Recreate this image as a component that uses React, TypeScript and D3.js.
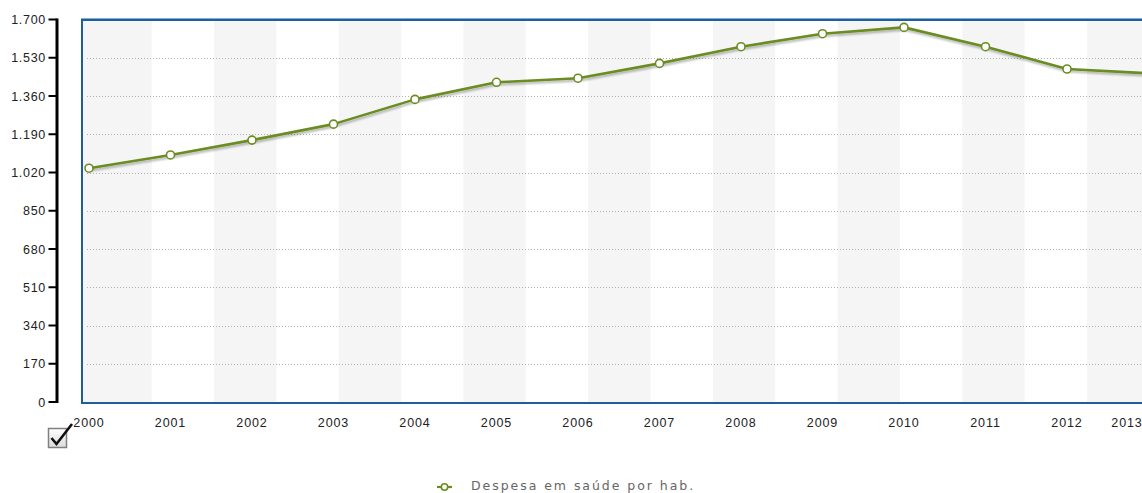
import React from "react";
import * as d3 from "d3";

const years = ["2000","2001","2002","2003","2004","2005","2006","2007","2008","2009","2010","2011","2012","2013"];
const values = [1039, 1098, 1164, 1235, 1345, 1421, 1439, 1505, 1579, 1637, 1665, 1579, 1480, 1461];
const yTicks = [0, 170, 340, 510, 680, 850, 1020, 1190, 1360, 1530, 1700];
const seriesName = "Despesa em saúde por hab.";

const W = 1142, H = 493;
const plotL = 82, plotT = 20, plotB = 403;
const lineColor = "#6b8c21";

const fmt = (v: number) => d3.format(",")(v).replace(/,/g, ".");

export default function App() {
  const x = d3.scalePoint<string>().domain(years).range([89, 1148.5]);
  const y = d3.scaleLinear().domain([0, 1700]).range([402, 19.5]);
  const line = d3.line<number>().x((_, i) => x(years[i])!).y((d) => y(d));

  const period = 124.7, bw = 62.35, start = 151.7;
  const whites: number[] = [];
  for (let s = start; s < W; s += period) whites.push(s);

  return (
    <svg width={W} height={H} style={{ position: "absolute", left: 0, top: 0, background: "#fff" }}>
      <defs>
        <clipPath id="plot"><rect x={plotL} y={plotT} width={W - plotL} height={plotB - plotT} /></clipPath>
        <filter id="sh" x="-5%" y="-20%" width="110%" height="160%">
          <feGaussianBlur in="SourceAlpha" stdDeviation="1.2" />
          <feOffset dx="1" dy="2" result="b" />
          <feComponentTransfer><feFuncA type="linear" slope="0.3" /></feComponentTransfer>
          <feMerge><feMergeNode /><feMergeNode in="SourceGraphic" /></feMerge>
        </filter>
        <linearGradient id="cb" x1="0" y1="0" x2="0" y2="1">
          <stop offset="0" stopColor="#ffffff" />
          <stop offset="1" stopColor="#dcdcdc" />
        </linearGradient>
      </defs>
      <g clipPath="url(#plot)">
        <rect x={plotL} y={plotT} width={W - plotL} height={plotB - plotT} fill="#f5f5f5" />
        {whites.map((s, i) => (
          <rect key={i} x={s} y={plotT} width={bw} height={plotB - plotT} fill="#ffffff" />
        ))}
        {yTicks.filter((t) => t > 0 && t < 1700).map((t) => (
          <line key={t} x1={87} x2={W} y1={Math.round(y(t)) + 0.5} y2={Math.round(y(t)) + 0.5}
            stroke="#b0b0b0" strokeWidth={1} strokeDasharray="1,2" />
        ))}
        <path d={line(values)!} fill="none" stroke={lineColor} strokeWidth={2.6} filter="url(#sh)" strokeLinejoin="round" />
        {values.map((v, i) => (
          <circle key={i} cx={x(years[i])} cy={y(v)} r={4} fill="#fff" stroke={lineColor} strokeWidth={1.6} />
        ))}
      </g>
      {/* frame */}
      <line x1={plotL - 1} x2={W} y1={18.5} y2={18.5} stroke="#7fb0d8" strokeWidth={1} />
      <rect x={plotL} y={20} width={W} height={plotB - 20} fill="none" stroke="#1c5f9a" strokeWidth={2} />
      {/* y axis */}
      <line x1={57} x2={57} y1={18.5} y2={403} stroke="#000" strokeWidth={3} />
      {yTicks.map((t) => (
        <g key={t}>
          <line x1={48.5} x2={57} y1={y(t)} y2={y(t)} stroke="#000" strokeWidth={2} />
          <text x={46} y={y(t) + 4.5} textAnchor="end" fontFamily="Liberation Sans, Arial, sans-serif"
            fontSize={12.5} letterSpacing={0.7} fill="#222">{fmt(t)}</text>
        </g>
      ))}
      {/* x labels */}
      {years.map((yr) => (
        <text key={yr} x={Math.min(x(yr)!, 1127)} y={427} textAnchor="middle"
          fontFamily="Liberation Sans, Arial, sans-serif" fontSize={12.5} letterSpacing={0.9} fill="#222">{yr}</text>
      ))}
      {/* checkbox */}
      <rect x={48.5} y={428.5} width={18} height={19} fill="url(#cb)" stroke="#808080" strokeWidth={1.5} />
      <path d="M51.5,438 L56.5,444 L72,424" fill="none" stroke="#111" strokeWidth={2.6} strokeLinejoin="miter" />
      {/* legend */}
      <line x1={437} x2={452} y1={487} y2={487} stroke={lineColor} strokeWidth={2.2} />
      <circle cx={444.5} cy={487} r={3.2} fill="#fff" stroke={lineColor} strokeWidth={1.6} />
      <text x={471} y={490} fontFamily="DejaVu Sans, Verdana, sans-serif" fontSize={12.5} letterSpacing={1.95}
        fill="#666">{seriesName}</text>
    </svg>
  );
}
